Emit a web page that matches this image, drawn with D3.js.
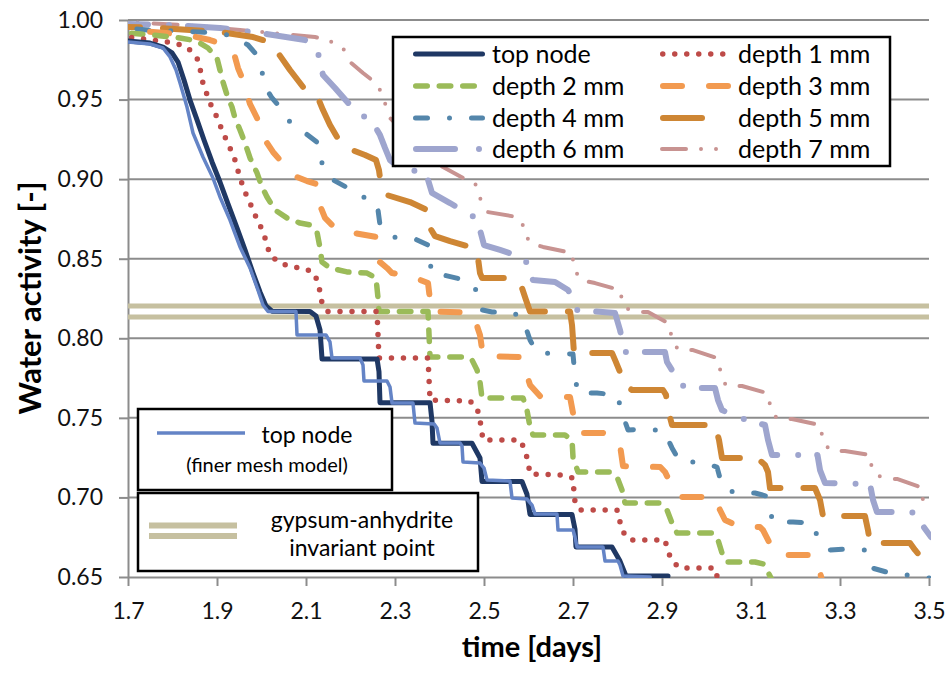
<!DOCTYPE html>
<html>
<head>
<meta charset="utf-8">
<script src="https://cdn.jsdelivr.net/npm/d3@7"></script>
<style>
  html, body { margin: 0; padding: 0; background: #fff; }
  svg { display: block; font-family: Lato, "Open Sans", sans-serif; }
</style>
</head>
<body>
<svg id="chart" width="947" height="674"></svg>
<script>
// ---- axis ticks ----
const xTicks = [1.7, 1.9, 2.1, 2.3, 2.5, 2.7, 2.9, 3.1, 3.3, 3.5];
const yTicks = [0.65, 0.70, 0.75, 0.80, 0.85, 0.90, 0.95, 1.00];

// gypsum-anhydrite invariant point, drawn as a double line
const gypsumLevels = [0.8203, 0.8134];

// ---- series: [time (days), water activity] ----
const topNode = [
  [1.700,0.9868],[1.7494,0.9855],[1.7787,0.9830],[1.7989,0.9793],[1.8124,0.9736],[1.8258,0.9623],
  [1.8393,0.9497],[1.8551,0.9372],[1.8708,0.9246],[1.8888,0.9108],[1.9067,0.8982],[1.9247,0.8844],
  [1.9449,0.8693],[1.9629,0.8555],[1.9809,0.8410],[1.9966,0.8291],[2.0101,0.8203],[2.0236,0.8170],
  [2.1090,0.8168],[2.1225,0.8140],[2.1315,0.8052],[2.1360,0.7870],[2.2596,0.7870],[2.2640,0.7790],
  [2.2663,0.7595],[2.3787,0.7595],[2.3831,0.7480],[2.3854,0.7340],[2.4730,0.7340],[2.4910,0.7248],
  [2.4955,0.7100],[2.5854,0.7100],[2.5966,0.7020],[2.6034,0.6893],[2.6978,0.6893],[2.7045,0.6800],
  [2.7067,0.6689],[2.7876,0.6689],[2.8056,0.6600],[2.8191,0.6506],[2.9135,0.6506]
];

const topNodeFine = [
  [1.700,0.9862],[1.7494,0.9849],[1.7787,0.9824],[1.7944,0.9768],[1.8079,0.9686],[1.8169,0.9604],
  [1.8326,0.9453],[1.8461,0.9290],[1.8685,0.9139],[1.8910,0.9007],[1.9067,0.8888],[1.9292,0.8743],
  [1.9517,0.8574],[1.9742,0.8442],[1.9921,0.8303],[2.0034,0.8209],[2.0146,0.8168],[2.0775,0.8168],
  [2.0798,0.8021],[2.1449,0.8021],[2.1539,0.7977],[2.1584,0.7876],[2.2213,0.7876],[2.2281,0.7832],
  [2.2303,0.7732],[2.2820,0.7732],[2.2888,0.7694],[2.2933,0.7593],[2.3404,0.7593],[2.3449,0.7468],
  [2.3876,0.7462],[2.3944,0.7436],[2.4011,0.7342],[2.4461,0.7342],[2.4506,0.7323],[2.4528,0.7223],
  [2.4910,0.7216],[2.5000,0.7185],[2.5067,0.7110],[2.5584,0.7103],[2.5629,0.6996],[2.5966,0.6990],
  [2.6079,0.6952],[2.6146,0.6896],[2.6640,0.6896],[2.6663,0.6795],[2.7000,0.6795],[2.7045,0.6751],
  [2.7090,0.6689],[2.7674,0.6689],[2.7719,0.6601],[2.8011,0.6601],[2.8056,0.6575],[2.8124,0.6506],
  [2.8735,0.6500]
];

const depth1 = [
  [1.700,0.9893],[1.7562,0.9874],[1.7876,0.9862],[1.8124,0.9849],[1.8348,0.9824],[1.8551,0.9761],
  [1.8618,0.9698],[1.8663,0.9623],[1.8753,0.9548],[1.8843,0.9478],[1.8955,0.9416],[1.9067,0.9340],
  [1.9180,0.9265],[1.9292,0.9196],[1.9404,0.9120],[1.9517,0.9007],[1.9629,0.8919],[1.9742,0.8850],
  [1.9854,0.8775],[1.9966,0.8712],[2.0079,0.8630],[2.0191,0.8523],[2.0416,0.8473],[2.0685,0.8448],
  [2.0910,0.8442],[2.1157,0.8417],[2.1270,0.8354],[2.1315,0.8291],[2.1360,0.8222],[2.1494,0.8168],
  [2.2596,0.8168],[2.2640,0.7876],[2.3742,0.7876],[2.3787,0.7612],[2.4685,0.7606],[2.4843,0.7562],
  [2.4910,0.7487],[2.4978,0.7361],[2.5809,0.7361],[2.5921,0.7298],[2.5989,0.7223],[2.6034,0.7147],
  [2.6775,0.7141],[2.7000,0.7122],[2.7022,0.7034],[2.7045,0.6971],[2.7157,0.6921],[2.7989,0.6921],
  [2.8056,0.6846],[2.8124,0.6783],[2.8281,0.6733],[2.9067,0.6733],[2.9135,0.6657],[2.9247,0.6594],
  [2.9404,0.6557],[3.0191,0.6557],[3.0258,0.6481]
];

const depth2 = [
  [1.700,0.9918],[1.7562,0.9906],[1.8169,0.9887],[1.8438,0.9874],[1.8618,0.9855],[1.8798,0.9824],
  [1.9000,0.9761],[1.9067,0.9686],[1.9135,0.9610],[1.9225,0.9529],[1.9337,0.9453],[1.9404,0.9384],
  [1.9517,0.9309],[1.9629,0.9227],[1.9742,0.9133],[1.9899,0.9039],[2.0011,0.8951],[2.0124,0.8888],
  [2.0303,0.8806],[2.0573,0.8756],[2.0865,0.8724],[2.1090,0.8712],[2.1247,0.8668],[2.1315,0.8567],
  [2.1360,0.8479],[2.1539,0.8442],[2.1921,0.8417],[2.2371,0.8410],[2.2573,0.8379],[2.2618,0.8253],
  [2.2640,0.8168],[2.3742,0.8168],[2.3787,0.7882],[2.4573,0.7882],[2.4730,0.7864],[2.4843,0.7801],
  [2.4910,0.7725],[2.4955,0.7625],[2.5876,0.7625],[2.5966,0.7549],[2.6034,0.7443],[2.6101,0.7392],
  [2.6820,0.7392],[2.6978,0.7361],[2.7000,0.7254],[2.7112,0.7160],[2.7831,0.7160],[2.7989,0.7128],
  [2.8101,0.7047],[2.8169,0.6965],[2.8961,0.6965],[2.9112,0.6921],[2.9225,0.6839],[2.9337,0.6777],
  [3.0146,0.6777],[3.0258,0.6733],[3.0348,0.6651],[3.0461,0.6594],[3.1090,0.6594],[3.1270,0.6582],
  [3.1382,0.6531],[3.1472,0.6481]
];

const depth3 = [
  [1.700,0.9937],[1.7562,0.9925],[1.8326,0.9906],[1.8843,0.9874],[1.9067,0.9855],[1.9292,0.9811],
  [1.9404,0.9768],[1.9472,0.9698],[1.9562,0.9636],[1.9629,0.9573],[1.9742,0.9472],[1.9899,0.9384],
  [2.0011,0.9309],[2.0124,0.9227],[2.0258,0.9171],[2.0416,0.9120],[2.0640,0.9045],[2.0798,0.9013],
  [2.1022,0.8988],[2.1247,0.8969],[2.1292,0.8900],[2.1337,0.8819],[2.1427,0.8756],[2.1584,0.8712],
  [2.1764,0.8680],[2.2056,0.8662],[2.2596,0.8636],[2.2618,0.8555],[2.2663,0.8479],[2.2820,0.8442],
  [2.2933,0.8410],[2.3404,0.8385],[2.3742,0.8347],[2.3787,0.8241],[2.3809,0.8168],[2.4685,0.8162],
  [2.4798,0.8115],[2.4910,0.8021],[2.4978,0.7889],[2.5809,0.7882],[2.5876,0.7845],[2.5966,0.7769],
  [2.6034,0.7707],[2.6258,0.7637],[2.6933,0.7631],[2.7000,0.7531],[2.7067,0.7455],[2.7112,0.7405],
  [2.7674,0.7405],[2.7899,0.7386],[2.8056,0.7329],[2.8124,0.7197],[2.8961,0.7191],[2.9067,0.7160],
  [2.9180,0.7097],[2.9292,0.7034],[2.9404,0.7003],[3.0191,0.7003],[3.0303,0.6921],[3.0416,0.6858],
  [3.0753,0.6814],[3.1202,0.6814],[3.1270,0.6795],[3.1382,0.6733],[3.1472,0.6682],[3.1652,0.6638],
  [3.2393,0.6638],[3.2506,0.6575],[3.2596,0.6481]
];

const depth4 = [
  [1.700,0.9950],[1.7427,0.9937],[1.8169,0.9931],[1.9000,0.9918],[1.9225,0.9906],[1.9517,0.9874],
  [1.9697,0.9843],[1.9854,0.9793],[2.0011,0.9673],[2.0124,0.9560],[2.0236,0.9510],[2.0371,0.9466],
  [2.0640,0.9359],[2.0978,0.9290],[2.1270,0.9227],[2.1360,0.9101],[2.1607,0.8995],[2.1944,0.8944],
  [2.2281,0.8888],[2.2573,0.8856],[2.2618,0.8806],[2.2663,0.8712],[2.2955,0.8636],[2.3404,0.8630],
  [2.3742,0.8586],[2.3787,0.8479],[2.3831,0.8404],[2.4079,0.8398],[2.4461,0.8373],[2.4798,0.8322],
  [2.4865,0.8241],[2.4955,0.8178],[2.5180,0.8165],[2.5629,0.8165],[2.5854,0.8127],[2.5921,0.8083],
  [2.6034,0.7989],[2.6191,0.7908],[2.7000,0.7901],[2.7045,0.7757],[2.7112,0.7656],[2.7539,0.7656],
  [2.7989,0.7644],[2.8056,0.7581],[2.8101,0.7531],[2.8236,0.7424],[2.8663,0.7430],[2.9022,0.7417],
  [2.9067,0.7405],[2.9225,0.7311],[2.9404,0.7223],[2.9854,0.7223],[3.0236,0.7191],[3.0303,0.7122],
  [3.0348,0.7072],[3.0640,0.7028],[3.1090,0.7028],[3.1337,0.7009],[3.1382,0.6965],[3.1494,0.6846],
  [3.1944,0.6846],[3.2371,0.6839],[3.2506,0.6745],[3.2775,0.6670],[3.3225,0.6676],[3.3562,0.6670],
  [3.3607,0.6638],[3.3719,0.6557],[3.4124,0.6525],[3.4865,0.6500],[3.5000,0.6494]
];

const depth5 = [
  [1.700,0.9956],[1.7719,0.9950],[1.8393,0.9937],[1.9067,0.9925],[1.9809,0.9893],[2.0034,0.9874],
  [2.0236,0.9837],[2.0371,0.9793],[2.0640,0.9686],[2.0933,0.9579],[2.1090,0.9548],[2.1270,0.9510],
  [2.1382,0.9434],[2.1539,0.9340],[2.1697,0.9265],[2.1876,0.9215],[2.2034,0.9183],[2.2326,0.9152],
  [2.2573,0.9120],[2.2640,0.9057],[2.2685,0.8963],[2.2820,0.8900],[2.3337,0.8856],[2.3719,0.8806],
  [2.3764,0.8756],[2.3787,0.8693],[2.3899,0.8642],[2.4236,0.8611],[2.4618,0.8580],[2.4820,0.8555],
  [2.4865,0.8504],[2.4910,0.8410],[2.4955,0.8379],[2.5539,0.8379],[2.5764,0.8354],[2.5854,0.8316],
  [2.5944,0.8241],[2.6034,0.8168],[2.6933,0.8168],[2.6978,0.8083],[2.7022,0.7908],[2.7876,0.7908],
  [2.7944,0.7864],[2.8056,0.7788],[2.8169,0.7707],[2.8326,0.7675],[2.9022,0.7675],[2.9090,0.7644],
  [2.9135,0.7549],[2.9225,0.7455],[3.0191,0.7455],[3.0281,0.7361],[3.0348,0.7248],[3.1135,0.7248],
  [3.1315,0.7204],[3.1382,0.7160],[3.1427,0.7059],[3.2438,0.7059],[3.2551,0.6984],[3.2618,0.6883],
  [3.3562,0.6883],[3.3629,0.6795],[3.3674,0.6714],[3.4573,0.6714],[3.4685,0.6670],[3.4910,0.6594],
  [3.5045,0.6557]
];

const depth6 = [
  [1.700,0.9975],[1.7944,0.9969],[1.9067,0.9950],[1.9966,0.9918],[2.0978,0.9874],[2.1157,0.9843],
  [2.1270,0.9793],[2.1382,0.9654],[2.1652,0.9573],[2.1989,0.9466],[2.2213,0.9416],[2.2393,0.9372],
  [2.2573,0.9321],[2.2663,0.9277],[2.2775,0.9196],[2.2888,0.9120],[2.3112,0.9070],[2.3674,0.9039],
  [2.3742,0.8995],[2.3831,0.8913],[2.4236,0.8850],[2.4618,0.8787],[2.4820,0.8756],[2.4910,0.8680],
  [2.5000,0.8586],[2.5360,0.8555],[2.5921,0.8504],[2.5989,0.8442],[2.6101,0.8366],[2.6596,0.8354],
  [2.6888,0.8303],[2.7022,0.8241],[2.7090,0.8178],[2.7944,0.8159],[2.8056,0.8052],[2.8169,0.7914],
  [2.9067,0.7914],[2.9112,0.7851],[2.9292,0.7769],[2.9404,0.7707],[2.9629,0.7688],[3.0191,0.7688],
  [3.0258,0.7612],[3.0348,0.7549],[3.0640,0.7512],[3.1045,0.7474],[3.1315,0.7455],[3.1382,0.7361],
  [3.1472,0.7267],[3.2494,0.7267],[3.2551,0.7172],[3.2663,0.7091],[3.3674,0.7084],[3.3742,0.6984],
  [3.3831,0.6908],[3.4618,0.6908],[3.4798,0.6846],[3.5045,0.6751]
];

const depth7 = [
  [1.700,0.9987],[1.7787,0.9975],[1.8618,0.9962],[1.9517,0.9937],[2.0483,0.9912],[2.1202,0.9893],
  [2.1494,0.9874],[2.1831,0.9824],[2.1989,0.9736],[2.2281,0.9667],[2.2483,0.9623],[2.2596,0.9592],
  [2.2663,0.9560],[2.2775,0.9478],[2.2888,0.9384],[2.3225,0.9290],[2.3494,0.9202],[2.3787,0.9133],
  [2.4079,0.9076],[2.4528,0.9007],[2.4798,0.8976],[2.4910,0.8882],[2.5067,0.8794],[2.5742,0.8762],
  [2.5921,0.8693],[2.6011,0.8599],[2.6326,0.8574],[2.6978,0.8536],[2.7022,0.8448],[2.7157,0.8366],
  [2.7494,0.8347],[2.8056,0.8303],[2.8124,0.8209],[2.8326,0.8165],[2.8685,0.8165],[2.9135,0.8096],
  [2.9225,0.8002],[2.9360,0.7926],[2.9697,0.7926],[3.0236,0.7876],[3.0326,0.7782],[3.0438,0.7700],
  [3.0798,0.7700],[3.1360,0.7656],[3.1449,0.7562],[3.1584,0.7493],[3.1921,0.7493],[3.2551,0.7455],
  [3.2618,0.7361],[3.2775,0.7292],[3.3112,0.7292],[3.3674,0.7267],[3.3719,0.7172],[3.3966,0.7116],
  [3.4281,0.7116],[3.4798,0.7066],[3.4865,0.6984],[3.5000,0.6908]
];

// ---- look of each series ----
// phaseAt: time at which a dash (or dot) of the pattern starts
const looks = {
  topNode:     { label: "top node",   color: "#1f3864", width: 5,   dash: null },
  topNodeFine: { label: "top node",   color: "#6484c6", width: 3.5, dash: null },
  depth1:      { label: "depth 1 mm", color: "#be4b48", width: 5.5, dash: "0,12", phaseAt: 2.1764 },
  depth2:      { label: "depth 2 mm", color: "#9bbb59", width: 5.5, dash: "11.5,12", phaseAt: 2.0303 },
  depth3:      { label: "depth 3 mm", color: "#f29a50", width: 6,   dash: "19,27", phaseAt: 2.0753 },
  depth4:      { label: "depth 4 mm", color: "#5486ab", width: 5,   dash: "12,22,0,22", phaseAt: 2.0978 },
  depth5:      { label: "depth 5 mm", color: "#ce8634", width: 6,   dash: "39,23", keyDash: "39,28,0,60", phaseAt: 2.0371 },
  depth6:      { label: "depth 6 mm", color: "#9ea5ce", width: 6,   dash: "39,21,0,19", keyDash: "39,24,0,40", phaseAt: 2.1360 },
  depth7:      { label: "depth 7 mm", color: "#c89391", width: 4,   dash: "24,15,0,15,0,16", phaseAt: 2.1989 }
};
const gypsumColor = "#c6c0a0";

// drawing order: deepest node first, top node and its fine-mesh twin last
const drawOrder = [
  ["depth7", depth7], ["depth6", depth6], ["depth5", depth5], ["depth4", depth4],
  ["depth3", depth3], ["depth2", depth2], ["depth1", depth1],
  ["topNode", topNode], ["topNodeFine", topNodeFine]
];

// ---- layout ----
const svg = d3.select("#chart");
const plot = { left: 128, right: 929, top: 20, bottom: 577 };
const x = d3.scaleLinear().domain([1.7, 3.5]).range([plot.left, plot.right]);
const y = d3.scaleLinear().domain([0.65, 1.0]).range([plot.bottom, plot.top]);
const gridColor = "#8c8c8c";
const fontFamily = "Lato, 'Open Sans', sans-serif";

svg.append("rect").attr("width", 947).attr("height", 674).attr("fill", "#fff");

// horizontal grid
svg.append("g").selectAll("line")
  .data(yTicks.filter(v => v > 0.65))
  .join("line")
  .attr("x1", plot.left).attr("x2", plot.right)
  .attr("y1", d => y(d)).attr("y2", d => y(d))
  .attr("stroke", gridColor).attr("stroke-width", 2);

// axes
const xAxis = svg.append("g")
  .attr("transform", `translate(0,${y(0.65)})`)
  .call(d3.axisBottom(x).tickValues(xTicks).tickFormat(d3.format(".1f"))
    .tickSize(9).tickSizeOuter(0).tickPadding(17));
const yAxis = svg.append("g")
  .attr("transform", `translate(${x(1.7)},0)`)
  .call(d3.axisLeft(y).tickValues(yTicks).tickFormat(d3.format(".2f"))
    .tickSize(9).tickSizeOuter(0).tickPadding(16));
[xAxis, yAxis].forEach(g => {
  g.attr("font-family", fontFamily).attr("font-size", 23);
  g.select(".domain").attr("stroke", gridColor).attr("stroke-width", 2);
  g.selectAll(".tick line").attr("stroke", gridColor).attr("stroke-width", 2);
  g.selectAll(".tick text").attr("fill", "#111");
});

// clip series to the plotting area
svg.append("defs").append("clipPath").attr("id", "plotClip")
  .append("rect")
  .attr("x", plot.left).attr("y", plot.top - 6)
  .attr("width", plot.right - plot.left + 2).attr("height", plot.bottom - plot.top + 7);

const area = svg.append("g").attr("clip-path", "url(#plotClip)");

// gypsum-anhydrite invariant point
area.append("g").selectAll("line")
  .data(gypsumLevels)
  .join("line")
  .attr("x1", plot.left).attr("x2", plot.right)
  .attr("y1", d => y(d)).attr("y2", d => y(d))
  .attr("stroke", gypsumColor).attr("stroke-width", 5);

const line = d3.line().x(d => x(d[0])).y(d => y(d[1])).curve(d3.curveLinear);

// dash offset so that a dash of the pattern begins at time t0 along the drawn path
function dashOffset(data, t0, dash, width) {
  const parts = dash.split(",").map(Number);
  const period = d3.sum(parts);
  const px = x(t0);
  let len = 0;
  for (let i = 1; i < data.length; i++) {
    const x0 = x(data[i - 1][0]), y0 = y(data[i - 1][1]);
    const x1 = x(data[i][0]),     y1 = y(data[i][1]);
    const seg = Math.hypot(x1 - x0, y1 - y0);
    if (px <= x1) {
      const f = x1 > x0 ? (px - x0) / (x1 - x0) : 0;
      len += seg * Math.max(0, Math.min(1, f));
      break;
    }
    len += seg;
  }
  if (parts[0] > 0) len += width / 2;
  return (period - (len % period)) % period;
}

drawOrder.forEach(([key, data]) => {
  const s = looks[key];
  const p = area.append("path")
    .datum(data)
    .attr("d", line)
    .attr("fill", "none")
    .attr("stroke", s.color)
    .attr("stroke-width", s.width)
    .attr("stroke-linejoin", "round")
    .attr("stroke-linecap", "round");
  if (s.dash) {
    p.attr("stroke-dasharray", s.dash)
     .attr("stroke-dashoffset", dashOffset(data, s.phaseAt, s.dash, s.width));
  }
});

// axis titles
svg.append("text")
  .attr("transform", "translate(29,298) rotate(-90)")
  .attr("text-anchor", "middle").attr("dominant-baseline", "central")
  .attr("font-family", fontFamily).attr("font-weight", 700).attr("font-size", 31)
  .attr("fill", "#000").text("Water activity [-]");
svg.append("text")
  .attr("x", 532).attr("y", 657)
  .attr("text-anchor", "middle")
  .attr("font-family", fontFamily).attr("font-weight", 700).attr("font-size", 29)
  .attr("fill", "#000").text("time [days]");

// ---- main legend ----
function sample(g, key, x0, x1, yy) {
  const s = looks[key];
  g.append("line")
    .attr("x1", x0 + s.width / 2).attr("x2", x1 - s.width / 2)
    .attr("y1", yy).attr("y2", yy)
    .attr("stroke", s.color).attr("stroke-width", s.width)
    .attr("stroke-linecap", "round")
    .attr("stroke-dasharray", s.keyDash || s.dash);
}

const legend = svg.append("g");
legend.append("rect")
  .attr("x", 393).attr("y", 37).attr("width", 497).attr("height", 129)
  .attr("fill", "#fff").attr("stroke", "#000").attr("stroke-width", 2.5);
const legendRows = [
  ["topNode", "depth1"], ["depth2", "depth3"], ["depth4", "depth5"], ["depth6", "depth7"]
];
const rowY = [54, 86, 118, 149];
const cols = [
  { x0: 413, x1: 485, tx: 492 },
  { x0: 660, x1: 732, tx: 738 }
];
legendRows.forEach((row, i) => {
  row.forEach((key, j) => {
    const c = cols[j];
    sample(legend, key, c.x0, c.x1, rowY[i]);
    legend.append("text")
      .attr("x", c.tx).attr("y", rowY[i]).attr("dy", "0.35em")
      .attr("font-family", fontFamily).attr("font-size", 25).attr("fill", "#000")
      .text(looks[key].label);
  });
});

// ---- fine-mesh legend ----
const fineKey = svg.append("g");
fineKey.append("rect")
  .attr("x", 138).attr("y", 409).attr("width", 254).attr("height", 81)
  .attr("fill", "#fff").attr("stroke", "#000").attr("stroke-width", 2.5);
fineKey.append("line")
  .attr("x1", 157).attr("x2", 245).attr("y1", 433).attr("y2", 433)
  .attr("stroke", looks.topNodeFine.color).attr("stroke-width", looks.topNodeFine.width);
fineKey.append("text")
  .attr("x", 307).attr("y", 443).attr("text-anchor", "middle")
  .attr("font-family", fontFamily).attr("font-size", 23).attr("fill", "#000")
  .text("top node");
fineKey.append("text")
  .attr("x", 267).attr("y", 472).attr("text-anchor", "middle")
  .attr("font-family", fontFamily).attr("font-size", 20).attr("fill", "#000")
  .text("(finer mesh model)");

// ---- invariant point legend ----
const gypKey = svg.append("g");
gypKey.append("rect")
  .attr("x", 138).attr("y", 493).attr("width", 340).attr("height", 78)
  .attr("fill", "#fff").attr("stroke", "#000").attr("stroke-width", 2.5);
[525.5, 536].forEach(yy => {
  gypKey.append("line")
    .attr("x1", 149).attr("x2", 237).attr("y1", yy).attr("y2", yy)
    .attr("stroke", gypsumColor).attr("stroke-width", 6);
});
gypKey.append("text")
  .attr("x", 362).attr("y", 528).attr("text-anchor", "middle")
  .attr("font-family", fontFamily).attr("font-size", 23).attr("fill", "#000")
  .text("gypsum-anhydrite");
gypKey.append("text")
  .attr("x", 362).attr("y", 556).attr("text-anchor", "middle")
  .attr("font-family", fontFamily).attr("font-size", 23).attr("fill", "#000")
  .text("invariant point");
</script>
</body>
</html>
